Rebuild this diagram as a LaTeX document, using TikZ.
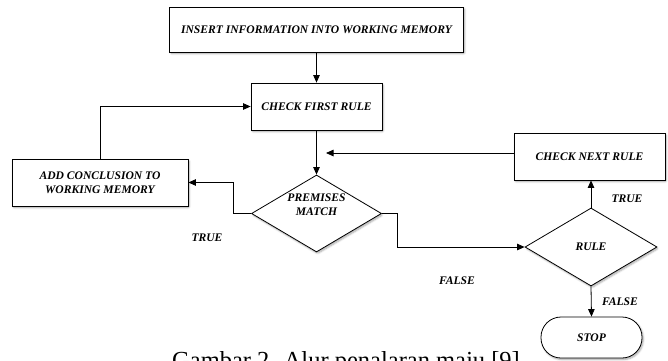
\documentclass[tikz,border=0pt]{standalone}
\usepackage{fontspec}
\setmainfont{Liberation Serif}
\usetikzlibrary{arrows.meta,shapes.geometric,shadows.blur}

\tikzset{
  lbl/.style={font=\fontsize{11.6}{14}\selectfont\bfseries\itshape, align=center},
  soft/.style={blur shadow={shadow xshift=1.2pt, shadow yshift=-1.5pt,
      shadow blur steps=6, shadow blur extra rounding=1pt,
      shadow opacity=35, shadow scale=1}},
  procbox/.style={lbl, draw, line width=0.8pt, fill=white, soft,
      inner sep=0pt, minimum width=#1, minimum height=47pt},
  decision/.style={draw, line width=0.8pt, fill=white, soft, diamond,
      inner sep=0pt, minimum width=#1, minimum height=77pt},
  terminal/.style={lbl, draw, line width=0.8pt, fill=white, soft,
      rounded corners=20pt, inner sep=0pt, minimum width=101pt, minimum height=41pt},
  arr/.style={line width=0.8pt, -{Triangle[length=7.5pt,width=6.5pt]}},
  branch/.style={lbl},
}

\begin{document}
\begin{tikzpicture}[x=1pt,y=-1pt]
  \useasboundingbox (0,0) rectangle (668,360);
  \clip (0,0) rectangle (668,360);

  % process boxes
  \node[procbox=294pt, minimum height=45pt] (ins) at (316.5,29.5) {INSERT INFORMATION INTO WORKING MEMORY};
  \node[procbox=131pt] (cfr) at (316.5,106.5) {CHECK FIRST RULE};
  \node[procbox=176pt] (add) at (100,182.5) {ADD CONCLUSION TO\\WORKING MEMORY};
  \node[procbox=151pt] (cnr) at (589.5,156.5) {CHECK NEXT RULE};

  % decisions
  \node[decision=130pt, minimum height=77pt] (pm) at (316.5,213.5) {};
  \node[lbl] (pmtext) at (316.5,205) {PREMISES\\MATCH};
  \node[decision=132pt, minimum height=78pt, lbl] (rule) at (591,247) {RULE};

  % end
  \node[terminal] (stop) at (591.5,337.5) {STOP};

  % connectors
  \coordinate (join) at (326,153);
  \draw[arr] (ins.south) -- (cfr.north);
  \draw[arr] (cfr.south) -- (pm.north);
  \draw[arr] (pm.west) -- ++(-18,0) |- (add.east);
  \draw[arr] (add.north) |- (cfr.west);
  \draw[arr] (pm.east) -- ++(15,0) |- (rule.west);
  \draw[arr] (rule.north) -- (rule.north |- cnr.south);
  \draw[arr] (cnr.west |- join) -- (join);
  \draw[arr] (rule.south) -- (stop.north);

  % branch labels
  \node[branch] (t1) at (207,238) {TRUE};
  \node[branch] (f1) at (457,281) {FALSE};
  \node[branch] (t2) at (627,199) {TRUE};
  \node[branch] (f2) at (620,302) {FALSE};

  % caption, running past the lower edge
  \node[anchor=base west, inner sep=0pt, font=\fontsize{24.5}{30}\selectfont] (cap) at (172,368)
    {Gambar 2. Alur penalaran maju [9]};
\end{tikzpicture}
\end{document}
